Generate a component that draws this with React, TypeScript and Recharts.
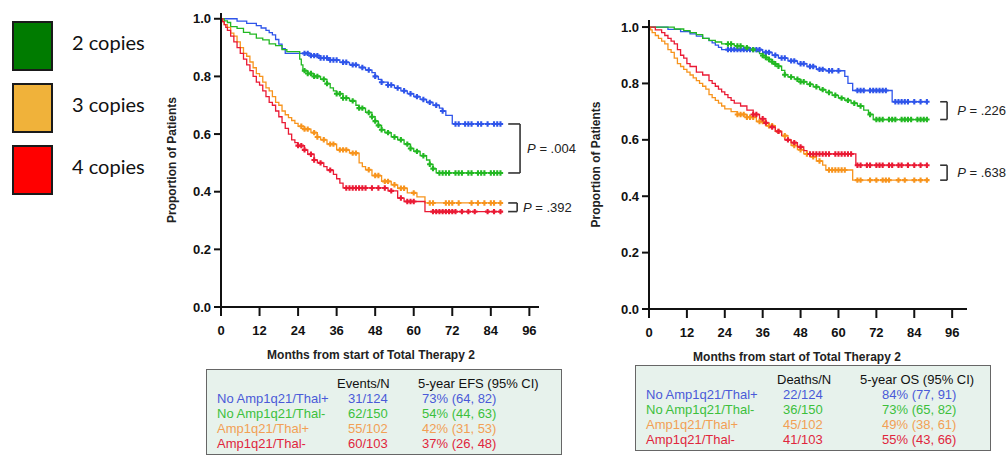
import React from 'react';
import { LineChart, Line, XAxis, YAxis, ReferenceLine, ReferenceDot, Label } from 'recharts';

const months = [0, 12, 24, 36, 48, 60, 72, 84, 96];
const yTicks = [0, 0.2, 0.4, 0.6, 0.8, 1.0];

const legendLabels = ['2 copies', '3 copies', '4 copies'];
const legendColors = ['#007b00', '#f0b23a', '#ff0000'];

const groups = ['No Amp1q21/Thal+', 'No Amp1q21/Thal-', 'Amp1q21/Thal+', 'Amp1q21/Thal-'];
const groupColors = ['#4a5ad8', '#3cc03c', '#f2a055', '#e0263c'];
const lineColors = ['#2f55ea', '#22b822', '#f7941d', '#ea1a34'];
const efsEvents = ['31/124', '62/150', '55/102', '60/103'];
const efsRate = ['73% (64, 82)', '54% (44, 63)', '42% (31, 53)', '37% (26, 48)'];
const osDeaths = ['22/124', '36/150', '45/102', '41/103'];
const osRate = ['84% (77, 91)', '73% (65, 82)', '49% (38, 61)', '55% (43, 66)'];

// event-free survival (left panel)
const efsBlueT = [5, 8, 11, 12.5, 14, 15, 16, 17, 18, 19, 20, 28, 31, 34, 37, 40, 43, 45, 47, 48, 49, 50, 52, 54, 56, 58, 60, 62, 64, 66, 68, 69, 70, 72];
const efsBlueS = [0.992, 0.984, 0.976, 0.968, 0.96, 0.952, 0.944, 0.928, 0.912, 0.896, 0.88, 0.872, 0.864, 0.857, 0.849, 0.84, 0.831, 0.822, 0.813, 0.8, 0.79, 0.78, 0.77, 0.76, 0.75, 0.74, 0.73, 0.72, 0.71, 0.7, 0.69, 0.68, 0.665, 0.635];
const efsBlueC = [26, 27, 28, 29, 30, 31, 32, 33, 34, 35, 36, 38, 39, 41, 42, 44, 46, 48, 50, 52, 53, 55, 57, 59, 61, 63, 65, 67, 69, 73, 74, 76, 77, 78, 80, 81, 83, 85, 86, 87];

const efsGreenT = [1, 2, 3, 5, 7, 9, 11, 13, 15, 17, 19, 20.5, 24.5, 25, 25.5, 27, 29, 31, 33, 34, 35, 36, 38, 40, 42, 43, 45, 47, 48, 49, 50, 51, 53, 55, 57, 59, 60, 62, 64, 65, 66, 67];
const efsGreenS = [0.993, 0.987, 0.973, 0.967, 0.953, 0.947, 0.933, 0.927, 0.913, 0.907, 0.893, 0.886, 0.86, 0.84, 0.82, 0.81, 0.8, 0.79, 0.775, 0.76, 0.75, 0.74, 0.725, 0.715, 0.7, 0.69, 0.675, 0.66, 0.645, 0.63, 0.615, 0.605, 0.59, 0.58, 0.565, 0.55, 0.54, 0.525, 0.51, 0.495, 0.48, 0.465];
const efsGreenC = [26, 27, 28, 29, 30, 32, 33, 36, 37, 38, 39, 41, 43, 44, 46, 47, 48, 49, 50, 52, 54, 56, 58, 59, 61, 63, 65, 66, 68, 69, 70, 71, 73, 74, 75, 77, 78, 80, 81, 82, 84, 85, 86, 87];

const efsOrangeT = [0.5, 1, 2, 3, 4, 5, 6, 7, 8, 9, 10, 11, 12, 13, 14, 15, 16, 17, 18, 19, 20, 21, 22, 23, 24, 26, 28, 30, 31, 33, 36, 40, 43, 44, 45, 47, 50, 53, 55, 58, 61, 63.5];
const efsOrangeS = [0.99, 0.98, 0.97, 0.95, 0.94, 0.92, 0.9, 0.88, 0.87, 0.85, 0.83, 0.81, 0.8, 0.78, 0.76, 0.75, 0.73, 0.71, 0.7, 0.68, 0.667, 0.657, 0.647, 0.637, 0.627, 0.617, 0.605, 0.59, 0.58, 0.565, 0.545, 0.534, 0.5, 0.487, 0.476, 0.456, 0.436, 0.424, 0.412, 0.396, 0.382, 0.361];
const efsOrangeC = [25, 26, 27, 29, 30, 32, 34, 35, 37, 38, 39, 41, 42, 46, 48, 49, 51, 52, 54, 56, 57, 60, 65, 66, 70, 71, 72, 74, 78, 80, 82, 84, 85, 87];

const efsRedT = [0.5, 1, 1.5, 2, 3, 4, 5, 6, 7, 8, 9, 10, 11, 12, 13, 14, 15, 16, 17, 18, 19, 20, 21, 22, 23, 24, 26, 27, 29, 30, 32, 33, 35, 36, 37, 38, 52, 55, 57, 63.5];
const efsRedS = [0.99, 0.98, 0.97, 0.96, 0.94, 0.92, 0.9, 0.88, 0.86, 0.84, 0.82, 0.8, 0.78, 0.77, 0.75, 0.73, 0.71, 0.7, 0.68, 0.66, 0.64, 0.62, 0.6, 0.58, 0.57, 0.56, 0.545, 0.53, 0.51, 0.5, 0.487, 0.475, 0.46, 0.445, 0.43, 0.413, 0.403, 0.378, 0.366, 0.331];
const efsRedC = [24, 25, 26, 28, 29, 31, 34, 39, 40, 41, 42, 43, 44, 45, 47, 49, 51, 53, 56, 58, 59, 60, 66, 67, 68, 69, 70, 71, 72, 73, 75, 77, 79, 83, 85, 87];

// overall survival (right panel)
const osBlueT = [6, 10, 13, 15, 17, 19, 20, 21, 22, 23, 36, 39, 41, 44, 47, 50, 53, 56, 62, 63, 64.5, 77];
const osBlueS = [0.992, 0.984, 0.976, 0.968, 0.96, 0.952, 0.944, 0.936, 0.928, 0.92, 0.91, 0.9, 0.89, 0.88, 0.87, 0.86, 0.85, 0.845, 0.825, 0.8, 0.775, 0.735];
const osBlueC = [25, 26, 27, 28, 29, 30, 31, 32, 33, 34, 35, 37, 38, 40, 42, 43, 45, 46, 48, 49, 51, 52, 54, 55, 57, 58, 60, 66, 67, 68, 70, 71, 72, 73, 74, 75, 78, 79, 80, 81, 82, 84, 86, 88];

const osGreenT = [8, 11, 13, 15, 17, 19, 21, 23, 27, 30, 32, 34, 35, 36, 37, 38, 39, 40, 41, 42, 43, 44, 46, 48, 50, 52, 54, 56, 58, 60, 62, 64, 66, 68, 69.5, 71];
const osGreenS = [0.993, 0.987, 0.98, 0.973, 0.96, 0.953, 0.947, 0.94, 0.933, 0.927, 0.92, 0.913, 0.906, 0.899, 0.892, 0.885, 0.877, 0.869, 0.861, 0.846, 0.831, 0.823, 0.815, 0.806, 0.797, 0.788, 0.778, 0.768, 0.758, 0.748, 0.74, 0.73, 0.72, 0.705, 0.69, 0.672];
const osGreenC = [25, 26, 28, 29, 31, 33, 36, 37, 38, 39, 40, 41, 43, 45, 47, 48, 49, 51, 53, 55, 57, 59, 61, 63, 65, 67, 70, 72, 73, 74, 76, 77, 78, 80, 81, 82, 83, 85, 86, 87, 88];

const osOrangeT = [0.5, 1, 2, 3, 4, 5, 6, 7, 8, 9, 10, 11, 12, 13, 14, 15, 16, 17, 18, 19, 20, 21, 22, 23, 24, 26, 28, 31, 34, 37, 40, 42, 44, 45, 47, 49, 51, 53, 55, 56, 64.5];
const osOrangeS = [0.99, 0.98, 0.97, 0.96, 0.95, 0.94, 0.92, 0.91, 0.89, 0.87, 0.86, 0.85, 0.84, 0.83, 0.82, 0.81, 0.8, 0.79, 0.78, 0.76, 0.75, 0.74, 0.73, 0.72, 0.71, 0.7, 0.69, 0.68, 0.665, 0.65, 0.63, 0.615, 0.6, 0.58, 0.565, 0.55, 0.54, 0.525, 0.51, 0.493, 0.457];
const osOrangeC = [28, 29, 30, 31, 32, 33, 35, 36, 38, 39, 41, 43, 46, 48, 50, 52, 54, 57, 58, 59, 60, 61, 62, 66, 67, 70, 72, 74, 75, 76, 79, 81, 84, 86, 88];

const osRedT = [2, 4, 5, 6, 7, 8, 9, 10, 11, 12, 13, 15, 17, 19, 20, 21, 22, 23, 24, 25, 26, 27, 29, 31, 33, 35, 37, 38, 40, 42, 43, 45, 47, 49, 50, 65.5];
const osRedS = [0.99, 0.98, 0.97, 0.96, 0.95, 0.94, 0.92, 0.9, 0.89, 0.87, 0.86, 0.84, 0.83, 0.81, 0.8, 0.79, 0.78, 0.77, 0.76, 0.75, 0.74, 0.73, 0.72, 0.705, 0.69, 0.675, 0.66, 0.645, 0.63, 0.615, 0.6, 0.59, 0.575, 0.562, 0.55, 0.51];
const osRedC = [33, 34, 36, 37, 39, 41, 44, 46, 48, 51, 52, 53, 54, 55, 56, 57, 59, 60, 61, 62, 63, 64, 66, 67, 69, 70, 72, 73, 74, 76, 77, 79, 80, 82, 84, 86, 88];

const efsP = ['.004', '.392'];
const osP = ['.226', '.638'];

const FONT = "'Liberation Sans', Arial, sans-serif";

type Pt = { t: number; s: number; c?: boolean };

function buildCurve(times: number[], surv: number[], censor: number[]): Pt[] {
  const evts = times.map((t, i) => ({ t, s: surv[i] }));
  const valueAt = (t: number) => {
    let s = 1;
    for (const e of evts) if (e.t <= t) s = e.s;
    return s;
  };
  const pts: Pt[] = [{ t: 0, s: 1 }, ...evts, ...censor.map((t) => ({ t, s: valueAt(t), c: true }))];
  pts.sort((a, b) => a.t - b.t || (a.c ? 1 : 0) - (b.c ? 1 : 0));
  return pts;
}

const last = (a: number[]) => a[a.length - 1];

const censorDot = (color: string) => (props: any) => {
  const { cx, cy, payload, index } = props;
  if (!payload || !payload.c) return <g key={`n${index}`} />;
  return (
    <path
      key={`c${index}`}
      d={`M${cx - 2.7},${cy}H${cx + 2.7}M${cx},${cy - 2.7}V${cy + 2.7}`}
      stroke={color}
      strokeWidth={2.1}
    />
  );
};

const PText = ({ viewBox, value }: any) => (
  <text x={viewBox.x} y={viewBox.y + viewBox.height / 2} dy="0.35em" fontSize={13} fill="#222" fontFamily={FONT}>
    <tspan fontStyle="italic">P</tspan>
    {` = ${value}`}
  </text>
);

function bracket(key: string, x1: number, x2: number, yTop: number, yBot: number, p: string, tx: number) {
  const st = { stroke: '#333', strokeWidth: 1.6, ifOverflow: 'visible' as const };
  return [
    <ReferenceLine key={`${key}a`} segment={[{ x: x1, y: yTop }, { x: x2, y: yTop }]} {...st} />,
    <ReferenceLine key={`${key}b`} segment={[{ x: x2, y: yTop }, { x: x2, y: yBot }]} {...st} />,
    <ReferenceLine key={`${key}c`} segment={[{ x: x1, y: yBot }, { x: x2, y: yBot }]} {...st} />,
    <ReferenceDot
      key={`${key}d`}
      x={tx}
      y={(yTop + yBot) / 2}
      r={0}
      fill="none"
      stroke="none"
      ifOverflow="visible"
      label={(lp: any) => <PText viewBox={lp.viewBox} value={p} />}
    />,
  ];
}

const axisStyle = { stroke: '#111', strokeWidth: 2 };
const tickStyle = { fontSize: 13, fontWeight: 'bold' as const, fill: '#111', fontFamily: FONT };

function KMPanel({ curves, xMax, yMax, margin, width, xLabelDx, yLabelOffset, children }: any) {
  return (
    <LineChart width={width} height={370} margin={margin}>
      <XAxis
        dataKey="t"
        type="number"
        domain={[0, xMax]}
        ticks={months}
        axisLine={axisStyle}
        tickLine={axisStyle}
        tickSize={9}
        tickMargin={10}
        tick={tickStyle}
        height={50}
        allowDuplicatedCategory={false}
      >
        <Label
          value="Months from start of Total Therapy 2"
          position="insideBottom"
          offset={-2}
          dx={xLabelDx}
          style={{ fontSize: 12, fontWeight: 'bold', fill: '#222', fontFamily: FONT }}
        />
      </XAxis>
      <YAxis
        type="number"
        domain={[0, yMax]}
        ticks={yTicks}
        tickFormatter={(v: number) => v.toFixed(1)}
        axisLine={axisStyle}
        tickLine={axisStyle}
        tickSize={7}
        tickMargin={3}
        tick={tickStyle}
        width={60}
      >
        <Label
          value="Proportion of Patients"
          angle={-90}
          position="insideLeft"
          offset={yLabelOffset}
          style={{ textAnchor: 'middle', fontSize: 12, fontWeight: 'bold', fill: '#222', fontFamily: FONT }}
        />
      </YAxis>
      {curves.map((c: any, i: number) => (
        <Line
          key={i}
          data={c}
          dataKey="s"
          type="stepAfter"
          stroke={lineColors[i]}
          strokeWidth={1.3}
          dot={censorDot(lineColors[i])}
          activeDot={false}
          isAnimationActive={false}
        />
      ))}
      {children}
    </LineChart>
  );
}

function Table({ left, top, width, head2, head3, col2, col3, x2, x2v, x3, x3v }: any) {
  const cell = (x: number, y: number, text: string, color: string, key: string) => (
    <div key={key} style={{ position: 'absolute', left: x, top: y, whiteSpace: 'nowrap', color, lineHeight: '15px' }}>
      {text}
    </div>
  );
  return (
    <div
      style={{
        position: 'absolute',
        left,
        top,
        width,
        height: 86,
        boxSizing: 'border-box',
        border: '1.5px solid #666',
        background: '#e7f2ec',
        fontFamily: FONT,
        fontSize: 13,
      }}
    >
      {cell(x2, 6, head2, '#111', 'h2')}
      {cell(x3, 6, head3, '#111', 'h3')}
      {groups.map((g, i) => [
        cell(10, 21 + i * 15, g, groupColors[i], `g${i}`),
        cell(x2v, 21 + i * 15, col2[i], groupColors[i], `a${i}`),
        cell(x3v, 21 + i * 15, col3[i], groupColors[i], `b${i}`),
      ])}
    </div>
  );
}

export default function App() {
  const efs = [
    buildCurve(efsBlueT, efsBlueS, efsBlueC),
    buildCurve(efsGreenT, efsGreenS, efsGreenC),
    buildCurve(efsOrangeT, efsOrangeS, efsOrangeC),
    buildCurve(efsRedT, efsRedS, efsRedC),
  ];
  const os = [
    buildCurve(osBlueT, osBlueS, osBlueC),
    buildCurve(osGreenT, osGreenS, osGreenC),
    buildCurve(osOrangeT, osOrangeS, osOrangeC),
    buildCurve(osRedT, osRedS, osRedC),
  ];

  return (
    <div style={{ position: 'absolute', left: 0, top: 0, width: 1007, height: 456, background: '#fff', overflow: 'hidden' }}>
      {legendLabels.map((l, i) => (
        <div key={l}>
          <div
            style={{
              position: 'absolute',
              left: 12,
              top: 21 + i * 62,
              width: 41,
              height: 50,
              boxSizing: 'border-box',
              border: '2px solid #1a1a1a',
              background: legendColors[i],
            }}
          />
          <div
            style={{
              position: 'absolute',
              left: 72,
              top: 29 + i * 62,
              fontFamily: 'Lato, sans-serif',
              fontSize: 20,
              lineHeight: '26px',
              color: '#111',
            }}
          >
            {l}
          </div>
        </div>
      ))}

      <div style={{ position: 'absolute', left: 140, top: 0 }}>
        <KMPanel
          curves={efs}
          xMax={99}
          yMax={1.02}
          width={440}
          margin={{ top: 13, right: 41, bottom: 13, left: 21 }}
          xLabelDx={-9}
          yLabelOffset={11}
        >
          {bracket('p1', 89.4, 93.1, last(efsBlueS), last(efsGreenS), efsP[0], 95.3)}
          {bracket('p2', 89.4, 92.2, last(efsOrangeS), last(efsRedS), efsP[1], 94)}
        </KMPanel>
      </div>

      <div style={{ position: 'absolute', left: 580, top: 0 }}>
        <KMPanel
          curves={os}
          xMax={100.7}
          yMax={1.025}
          width={427}
          margin={{ top: 20, right: 40, bottom: 11, left: 9 }}
          xLabelDx={-11}
          yLabelOffset={7}
        >
          {bracket('p3', 92.2, 94.4, last(osBlueS), last(osGreenS), osP[0], 97.6)}
          {bracket('p4', 92.2, 94.4, last(osRedS), last(osOrangeS), osP[1], 97.6)}
        </KMPanel>
      </div>

      <Table
        left={206}
        top={369}
        width={356}
        head2="Events/N"
        head3="5-year EFS (95% CI)"
        col2={efsEvents}
        col3={efsRate}
        x2={130}
        x2v={141}
        x3={211}
        x3v={215}
      />
      <Table
        left={635}
        top={365}
        width={356}
        head2="Deaths/N"
        head3="5-year OS (95% CI)"
        col2={osDeaths}
        col3={osRate}
        x2={141}
        x2v={147}
        x3={224}
        x3v={246}
      />
    </div>
  );
}
